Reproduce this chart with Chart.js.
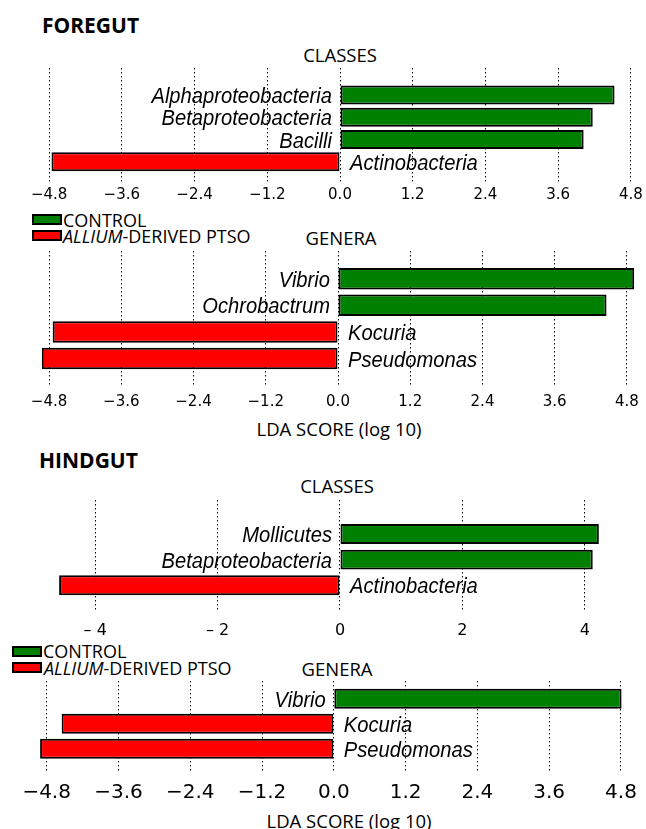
<!DOCTYPE html>
<html lang="en">
<head>
<meta charset="UTF-8">
<title>LDA scores - foregut / hindgut</title>
<script src="https://cdn.jsdelivr.net/npm/chart.js"></script>
<style>
  * { margin: 0; padding: 0; box-sizing: border-box; }
  body {
    width: 646px; height: 829px; background: #fff; color: #000;
    position: relative; overflow: hidden;
    font-family: 'Open Sans', Lato, sans-serif;
  }
  canvas { position: absolute; left: 0; }
  .t { position: absolute; white-space: nowrap; transform: translateY(-50%); }
  .gut { font-weight: bold; font-size: 21px; }
  .mid { font-size: 18.5px; transform: translate(-50%, -50%); }
  .leg { font-size: 18px; }
  .box { position: absolute; width: 30px; height: 11px; border: 2px solid #000; }
</style>
</head>
<body>
  <div class="t gut" style="left:42px; top:25px;">FOREGUT</div>
  <div class="t mid" style="left:340px; top:53.5px;">CLASSES</div>
  <div class="box" style="left:32px; top:214px; background:#008000;"></div>
  <div class="t leg" style="left:63px; top:219.5px;">CONTROL</div>
  <div class="box" style="left:32px; top:230px; background:#ff0000;"></div>
  <div class="t leg" style="left:63px; top:235.5px;"><i>ALLIUM</i>-DERIVED PTSO</div>
  <div class="t mid" style="left:341px; top:236.5px;">GENERA</div>
  <div class="t mid" style="left:339px; top:428px;">LDA SCORE (log 10)</div>

  <div class="t gut" style="left:39px; top:460px;">HINDGUT</div>
  <div class="t mid" style="left:337px; top:484.5px;">CLASSES</div>
  <div class="box" style="left:12px; top:646px; background:#008000;"></div>
  <div class="t leg" style="left:43px; top:650.5px;">CONTROL</div>
  <div class="box" style="left:12px; top:662px; background:#ff0000;"></div>
  <div class="t leg" style="left:44px; top:668px;"><i>ALLIUM</i>-DERIVED PTSO</div>
  <div class="t mid" style="left:337px; top:668px;">GENERA</div>
  <div class="t mid" style="left:349px; top:820px;">LDA SCORE (log 10)</div>

  <canvas id="fgClasses"></canvas>
  <canvas id="fgGenera"></canvas>
  <canvas id="hgClasses"></canvas>
  <canvas id="hgGenera"></canvas>

<script>
// foregut
const fgClassNames = ['Alphaproteobacteria', 'Betaproteobacteria', 'Bacilli', 'Actinobacteria'];
const fgClassLda = [4.53, 4.17, 4.02, -4.76];
const fgGenusNames = ['Vibrio', 'Ochrobactrum', 'Kocuria', 'Pseudomonas'];
const fgGenusLda = [4.92, 4.46, -4.74, -4.92];

// hindgut
const hgClassNames = ['Mollicutes', 'Betaproteobacteria', 'Actinobacteria'];
const hgClassLda = [4.23, 4.13, -4.59];
const hgGenusNames = ['Vibrio', 'Kocuria', 'Pseudomonas'];
const hgGenusLda = [4.81, -4.55, -4.91];

// x ticks
const ticks12 = [-4.8, -3.6, -2.4, -1.2, 0, 1.2, 2.4, 3.6, 4.8];
const ticks12Labels = ['\u22124.8', '\u22123.6', '\u22122.4', '\u22121.2', '0.0', '1.2', '2.4', '3.6', '4.8'];
const ticks2 = [-4, -2, 0, 2, 4];
const ticks2Labels = ['\u2013 4', '\u2013 2', '0', '2', '4'];

const GREEN = '#008000';
const RED = '#ff0000';

// names next to the zero line: left of it for positive bars, right for negative
const barNames = {
  id: 'barNames',
  afterDatasetsDraw(chart) {
    const { ctx } = chart;
    const meta = chart.getDatasetMeta(0);
    const zero = chart.scales.x.getPixelForValue(0);
    ctx.save();
    ctx.font = 'italic 22px "Liberation Sans", Arimo, sans-serif';
    ctx.fillStyle = '#000';
    ctx.textBaseline = 'alphabetic';
    meta.data.forEach((bar, i) => {
      const v = chart.data.datasets[0].data[i].x;
      ctx.save();
      if (v >= 0) {
        ctx.translate(zero - 8, bar.y + 8);
        ctx.textAlign = 'right';
      } else {
        ctx.translate(zero + 10, bar.y + 8);
        ctx.textAlign = 'left';
      }
      ctx.scale(0.917, 1);
      ctx.fillText(chart.data.labels[i], 0, 0);
      ctx.restore();
    });
    ctx.restore();
  }
};

function drawPanel(id, p) {
  const cv = document.getElementById(id);
  cv.style.top = p.top + 'px';
  const h = p.areaBottom - p.top + p.axisH;
  cv.width = 646; cv.height = h;
  cv.style.width = '646px'; cv.style.height = h + 'px';

  new Chart(cv, {
    type: 'bar',
    data: {
      labels: p.names,
      datasets: [{
        data: p.values.map((v, i) => ({ x: v, y: i })),
        backgroundColor: p.values.map(v => v >= 0 ? GREEN : RED),
        borderColor: '#000',
        borderWidth: 2,
        borderSkipped: false,
        categoryPercentage: 1,
        barPercentage: p.barPct
      }]
    },
    options: {
      indexAxis: 'y',
      responsive: false,
      animation: false,
      events: [],
      layout: { padding: { top: p.areaTop - p.top, bottom: 0, left: p.left, right: 646 - p.right } },
      plugins: { legend: { display: false }, tooltip: { enabled: false } },
      scales: {
        y: {
          type: 'linear', display: false, reverse: true, offset: false,
          min: p.yMin, max: p.yMax,
          grid: { offset: false },
          // one tick per bar row so the bar ruler uses the row pitch
          afterBuildTicks: s => { s.ticks = p.names.map((n, i) => ({ value: i })); }
        },
        x: {
          min: p.xMin, max: p.xMax, z: 1, offset: false,
          afterBuildTicks: s => { s.ticks = p.ticks.map(v => ({ value: v })); },
          afterFit: s => { s.height = p.axisH; },
          grid: { color: '#000', lineWidth: 1, drawTicks: false, offset: false },
          border: { display: false, dash: [1.5, 2.5] },
          ticks: {
            autoSkip: false, maxRotation: 0, padding: p.tickPad, color: '#000',
            font: { family: 'DejaVu Sans', size: p.tickSize },
            callback: (v, i) => p.tickLabels[i]
          }
        }
      }
    },
    plugins: [barNames]
  });
}

drawPanel('fgClasses', {
  names: fgClassNames, values: fgClassLda, ticks: ticks12, tickLabels: ticks12Labels,
  top: 60, areaTop: 68, areaBottom: 183, axisH: 26, tickPad: 3,
  left: 40, right: 640, xMin: -4.95, xMax: 4.95,
  yMin: -1.21, yMax: 3.95, barPct: 0.85, tickSize: 15
});
drawPanel('fgGenera', {
  names: fgGenusNames, values: fgGenusLda, ticks: ticks12, tickLabels: ticks12Labels,
  top: 243, areaTop: 251, areaBottom: 386, axisH: 28, tickPad: 7,
  left: 40, right: 640, xMin: -4.95, xMax: 4.95,
  yMin: -1.04, yMax: 4.03, barPct: 0.81, tickSize: 15
});
drawPanel('hgClasses', {
  names: hgClassNames, values: hgClassLda, ticks: ticks2, tickLabels: ticks2Labels,
  top: 493, areaTop: 500, areaBottom: 610, axisH: 32, tickPad: 11,
  left: 43.2, right: 636.8, xMin: -4.85, xMax: 4.85,
  yMin: -1.33, yMax: 2.97, barPct: 0.78, tickSize: 16
});
drawPanel('hgGenera', {
  names: hgGenusNames, values: hgGenusLda, ticks: ticks12, tickLabels: ticks12Labels,
  top: 676, areaTop: 681, areaBottom: 772, axisH: 36, tickPad: 9,
  left: 37.7, right: 638.3, xMin: -4.95, xMax: 4.95,
  yMin: -0.71, yMax: 2.93, barPct: 0.8, tickSize: 20
});
</script>
</body>
</html>
